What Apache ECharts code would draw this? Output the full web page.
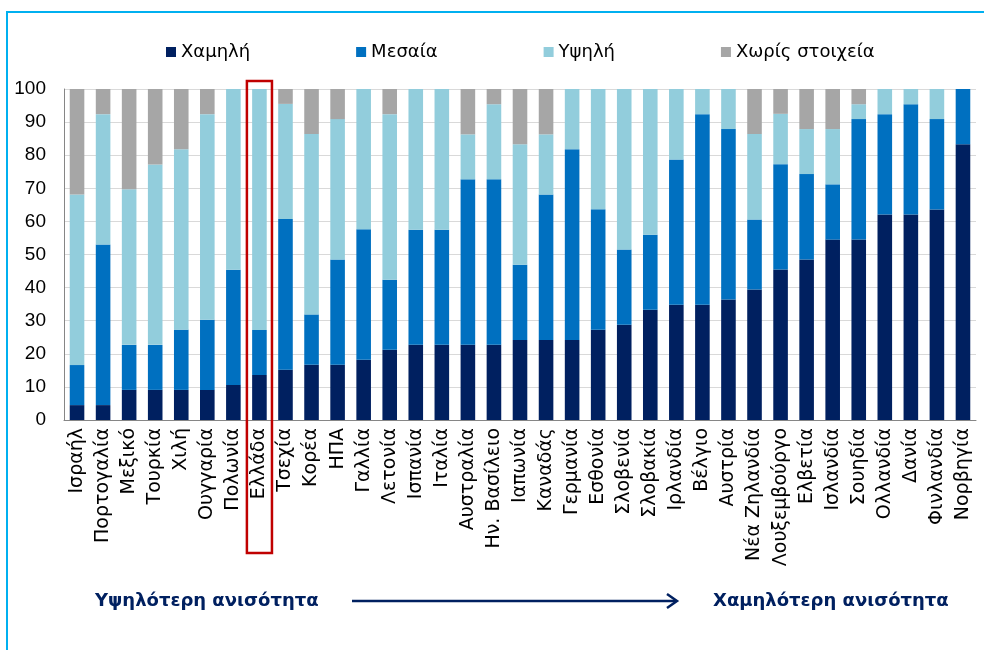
<!DOCTYPE html>
<html>
<head>
<meta charset="utf-8">
<script src="https://cdn.jsdelivr.net/npm/echarts@6/dist/echarts.min.js"></script>
<style>
  html, body { margin: 0; padding: 0; background: #fff; }
  #frame {
    position: absolute; left: 6px; top: 11px; width: 1000px; height: 700px;
    border: 2px solid #00B0F0; box-sizing: border-box;
  }
  #chart { position: absolute; left: 0; top: 0; width: 984px; height: 650px; }
</style>
</head>
<body>
<div id="frame"></div>
<div id="chart"></div>
<script>
// χώρες (ταξινομημένες από υψηλότερη σε χαμηλότερη ανισότητα)
const countries = [
  "Ισραήλ", "Πορτογαλία", "Μεξικό", "Τουρκία", "Χιλή", "Ουγγαρία", "Πολωνία",
  "Ελλάδα", "Τσεχία", "Κορέα", "ΗΠΑ", "Γαλλία", "Λετονία", "Ισπανία", "Ιταλία",
  "Αυστραλία", "Ην. Βασίλειο", "Ιαπωνία", "Καναδάς", "Γερμανία", "Εσθονία",
  "Σλοβενία", "Σλοβακία", "Ιρλανδία", "Βέλγιο", "Αυστρία", "Νέα Ζηλανδία",
  "Λουξεμβούργο", "Ελβετία", "Ισλανδία", "Σουηδία", "Ολλανδία", "Δανία",
  "Φινλανδία", "Νορβηγία"
];
const low = [
  4.5, 4.5, 9.1, 9.1, 9.1, 9.1, 10.6, 13.6, 15.2, 16.7, 16.7, 18.2, 21.2, 22.7, 22.7,
  22.7, 22.7, 24.2, 24.2, 24.2, 27.3, 28.8, 33.3, 34.8, 34.8, 36.4, 39.4,
  45.5, 48.5, 54.5, 54.5, 62.1, 62.1, 63.6, 83.3
];
const medium = [
  12.1, 48.5, 13.6, 13.6, 18.2, 21.2, 34.8, 13.6, 45.5, 15.2, 31.8, 39.4, 21.2, 34.8, 34.8,
  50.0, 50.0, 22.7, 43.9, 57.6, 36.4, 22.7, 22.7, 43.9, 57.6, 51.5, 21.2,
  31.8, 25.8, 16.7, 36.4, 30.3, 33.3, 27.3, 16.7
];
const high = [
  51.5, 39.4, 47.0, 54.5, 54.5, 62.1, 54.6, 72.8, 34.8, 54.5, 42.4, 42.4, 50.0, 42.5, 42.5,
  13.6, 22.7, 36.4, 18.2, 18.2, 36.3, 48.5, 44.0, 21.3, 7.6, 12.1, 25.8,
  15.2, 13.6, 16.7, 4.5, 7.6, 4.6, 9.1, 0
];
const noData = [
  31.9, 7.6, 30.3, 22.8, 18.2, 7.6, 0, 0, 4.5, 13.6, 9.1, 0, 7.6, 0, 0,
  13.7, 4.6, 16.7, 13.7, 0, 0, 0, 0, 0, 0, 0, 13.6,
  7.5, 12.1, 12.1, 4.6, 0, 0, 0, 0
];
const seriesNames = ["Χαμηλή", "Μεσαία", "Υψηλή", "Χωρίς στοιχεία"];
const colors = ["#002060", "#0070C0", "#92CDDC", "#A6A6A6"];
const yTicks = [0, 10, 20, 30, 40, 50, 60, 70, 80, 90, 100];
const highlighted = "Ελλάδα";

const chart = echarts.init(document.getElementById("chart"));
const font = "DejaVu Sans";

chart.setOption({
  animation: false,
  color: colors,
  textStyle: { fontFamily: font },
  legend: {
    left: 161,
    top: 38,
    itemWidth: 10,
    itemHeight: 10,
    itemGap: 106,
    icon: "rect",
    textStyle: { fontSize: 18, color: "#000", fontFamily: font },
    data: seriesNames
  },
  grid: { left: 64, right: 8, top: 89, bottom: 230 },
  xAxis: {
    type: "category",
    data: countries,
    axisTick: { show: false },
    axisLine: { lineStyle: { color: "#868686" } },
    axisLabel: {
      rotate: 90, interval: 0, margin: 8,
      fontSize: 19, color: "#000", fontFamily: font
    }
  },
  yAxis: {
    type: "value",
    min: yTicks[0],
    max: yTicks[yTicks.length - 1],
    interval: 10,
    axisLine: { show: true, lineStyle: { color: "#868686" } },
    axisTick: { show: false },
    splitLine: { lineStyle: { color: "#D9D9D9" } },
    axisLabel: { fontSize: 19, color: "#000", margin: 18, fontFamily: "Liberation Sans" }
  },
  series: [low, medium, high, noData].map((d, i) => ({
    name: seriesNames[i],
    type: "bar",
    stack: "total",
    barWidth: "56%",
    data: d
  }))
});

// πλαίσιο γύρω από την Ελλάδα, βέλος και κείμενα κάτω
const cx = chart.convertToPixel({ xAxisIndex: 0 }, highlighted);
const topY = chart.convertToPixel({ yAxisIndex: 0 }, 100);
const band = (984 - 64 - 8) / countries.length;
const navy = "#002060";
chart.setOption({
  graphic: [
    {
      type: "rect",
      shape: { x: cx - band / 2 + 0.5, y: topY - 8, width: band - 1, height: 553 - topY + 8 },
      style: { fill: "none", stroke: "#C00000", lineWidth: 2.5 },
      z: 100
    },
    {
      type: "text", left: 95, top: 592,
      style: { text: "Υψηλότερη ανισότητα", fill: navy, font: "bold 18px 'DejaVu Sans'" }
    },
    {
      type: "text", left: 713, top: 592,
      style: { text: "Χαμηλότερη ανισότητα", fill: navy, font: "bold 18px 'DejaVu Sans'" }
    },
    {
      type: "line",
      shape: { x1: 352, y1: 601, x2: 676, y2: 601 },
      style: { stroke: navy, lineWidth: 2.5 }
    },
    {
      type: "polyline",
      shape: { points: [[667, 594], [677, 601], [667, 608]] },
      style: { stroke: navy, lineWidth: 2.5, fill: "none" }
    }
  ]
});
</script>
</body>
</html>
